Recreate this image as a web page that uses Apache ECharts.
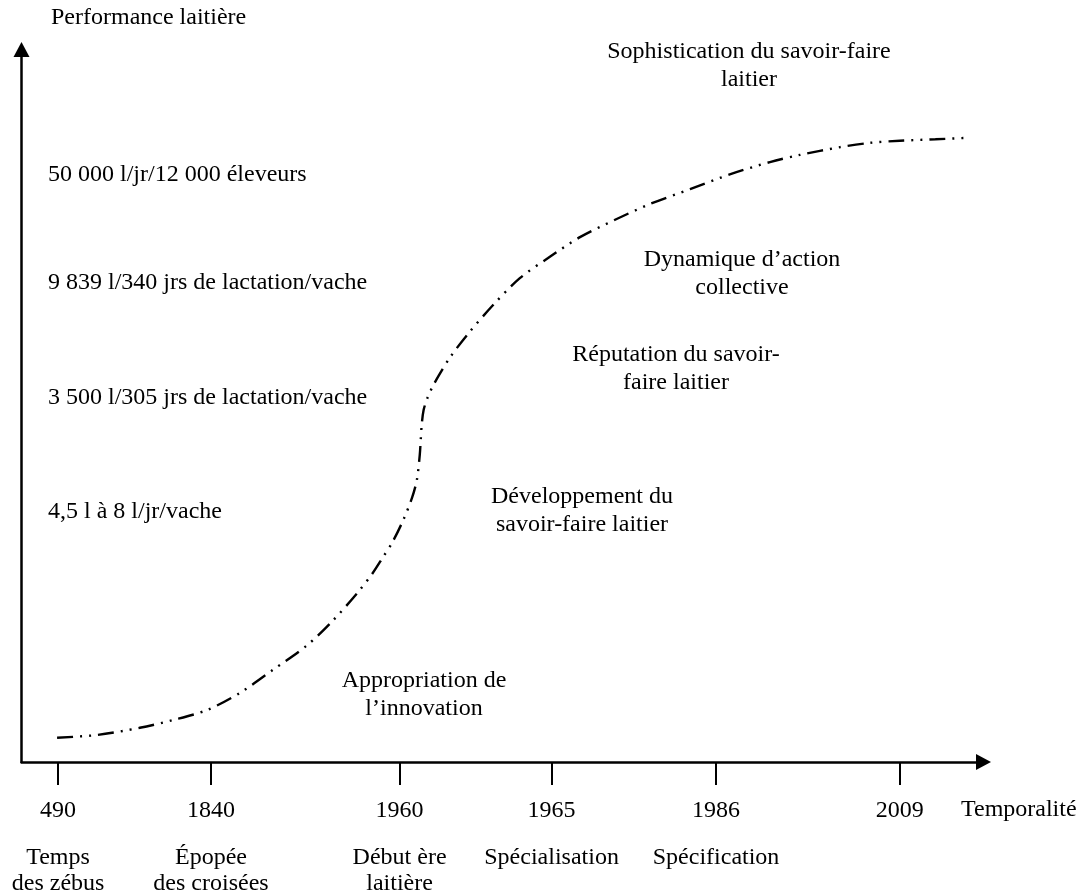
<!DOCTYPE html>
<html>
<head>
<meta charset="utf-8">
<title>Performance laitière</title>
<script src="https://cdn.jsdelivr.net/npm/echarts@6/dist/echarts.min.js"></script>
<style>
  html, body { margin: 0; padding: 0; background: #fff; }
  #chart { width: 1082px; height: 896px; }
</style>
</head>
<body>
<div id="chart"></div>
<script>
// position des jalons sur l'axe du temps (échelle 0-100, non linéaire)
const timelinePos = [3.8, 19.7, 39.3, 55.1, 72.2, 91.3];
const years = ['490', '1840', '1960', '1965', '1986', '2009'];
const periods = [
  ['Temps', 'des zébus'],
  ['Épopée', 'des croisées'],
  ['Début ère', 'laitière'],
  ['Spécialisation'],
  ['Spécification'],
  []
];

// niveaux de performance (échelle 0-100)
const levelPos = [82.4, 67.2, 51.1, 35.1];
const levelLabels = [
  '50 000 l/jr/12 000 éleveurs',
  '9 839 l/340 jrs de lactation/vache',
  '3 500 l/305 jrs de lactation/vache',
  '4,5 l à 8 l/jr/vache'
];

// courbe en S
const curveX = [3.7, 7.9, 12.3, 15.8, 19.3, 22.7, 26.1, 29.7, 32.4, 34.9, 36.5, 37.6, 38.5, 39.7, 40.6,
  41.1, 41.4, 41.5, 41.6, 41.8, 42.2, 42.7, 43.4, 44.5, 46.3, 49.0, 51.8, 54.7, 58.1, 61.7, 65.3, 69.5,
  73.7, 77.8, 80.9, 85.1, 88.2, 91.3, 95.0, 98.4];
const curveY = [3.4, 3.8, 4.8, 5.9, 7.3, 9.7, 12.9, 16.4, 19.9, 23.7, 26.5, 28.8, 30.7, 34.0, 37.1,
  39.6, 43.1, 45.2, 47.3, 49.4, 51.1, 52.6, 54.3, 56.7, 59.9, 64.1, 67.9, 70.7, 73.7, 76.1, 78.3, 80.4,
  82.5, 84.2, 85.2, 86.3, 86.9, 87.2, 87.4, 87.6];

const phases = [
  { text: 'Sophistication du savoir-faire\nlaitier', x: 749, y: 66 },
  { text: 'Dynamique d\u2019action\ncollective', x: 742, y: 274 },
  { text: 'Réputation du savoir-\nfaire laitier', x: 676, y: 369 },
  { text: 'Développement du\nsavoir-faire laitier', x: 582, y: 511 },
  { text: 'Appropriation de\nl\u2019innovation', x: 424, y: 695 }
];

const FONT = 'Liberation Serif';
const ink = '#000';

const chart = echarts.init(document.getElementById('chart'));

const nearest = (arr, v) => {
  let best = 0;
  arr.forEach((a, i) => { if (Math.abs(a - v) < Math.abs(arr[best] - v)) best = i; });
  return best;
};

const option = {
  animation: false,
  backgroundColor: '#fff',
  grid: { left: 21.5, right: 98.5, top: 49.5, bottom: 134, containLabel: false, outerBoundsMode: 'none' },
  xAxis: {
    type: 'value',
    min: 0,
    max: 100,
    splitLine: { show: false },
    axisLine: {
      show: true,
      symbol: ['none', 'triangle'],
      symbolSize: [16, 15],
      lineStyle: { color: ink, width: 2.5 }
    },
    axisTick: {
      show: true,
      customValues: timelinePos,
      length: 23,
      lineStyle: { color: ink, width: 2 }
    },
    axisLabel: {
      customValues: timelinePos,
      margin: 15,
      color: ink,
      fontFamily: FONT,
      fontSize: 24,
      formatter: (v) => {
        const i = nearest(timelinePos, v);
        let s = '{y|' + years[i] + '}';
        periods[i].forEach(p => { s += '\n{d|' + p + '}'; });
        return s;
      },
      rich: {
        y: { fontFamily: FONT, fontSize: 24, color: ink, lineHeight: 68 },
        d: { fontFamily: FONT, fontSize: 24, color: ink, lineHeight: 26 }
      }
    }
  },
  yAxis: {
    type: 'value',
    min: 0,
    max: 100,
    splitLine: { show: false },
    axisLine: {
      show: true,
      symbol: ['none', 'triangle'],
      symbolSize: [16, 15],
      lineStyle: { color: ink, width: 2.5 }
    },
    axisTick: { show: false },
    axisLabel: {
      customValues: levelPos,
      inside: true,
      margin: 26.5,
      color: ink,
      fontFamily: FONT,
      fontSize: 24,
      formatter: (v) => levelLabels[nearest(levelPos, v)]
    }
  },
  series: [{
    type: 'line',
    data: curveX.map((x, i) => [x, curveY[i]]),
    showSymbol: false,
    smooth: 0.3,
    lineStyle: { color: ink, width: 2.4, type: [16, 7, 2, 7, 2, 7], cap: 'butt' }
  }],
  graphic: [
    {
      type: 'text', left: 51, top: 6,
      style: { text: 'Performance laitière', font: '24px "' + FONT + '"', fill: ink }
    },
    {
      type: 'text', left: 961, top: 798,
      style: { text: 'Temporalité', font: '24px "' + FONT + '"', fill: ink }
    }
  ].concat(phases.map(p => ({
    type: 'text',
    x: p.x,
    y: p.y,
    style: {
      text: p.text,
      font: '24px "' + FONT + '"',
      fill: ink,
      align: 'center',
      verticalAlign: 'middle',
      lineHeight: 28
    }
  })))
};

chart.setOption(option);
</script>
</body>
</html>
